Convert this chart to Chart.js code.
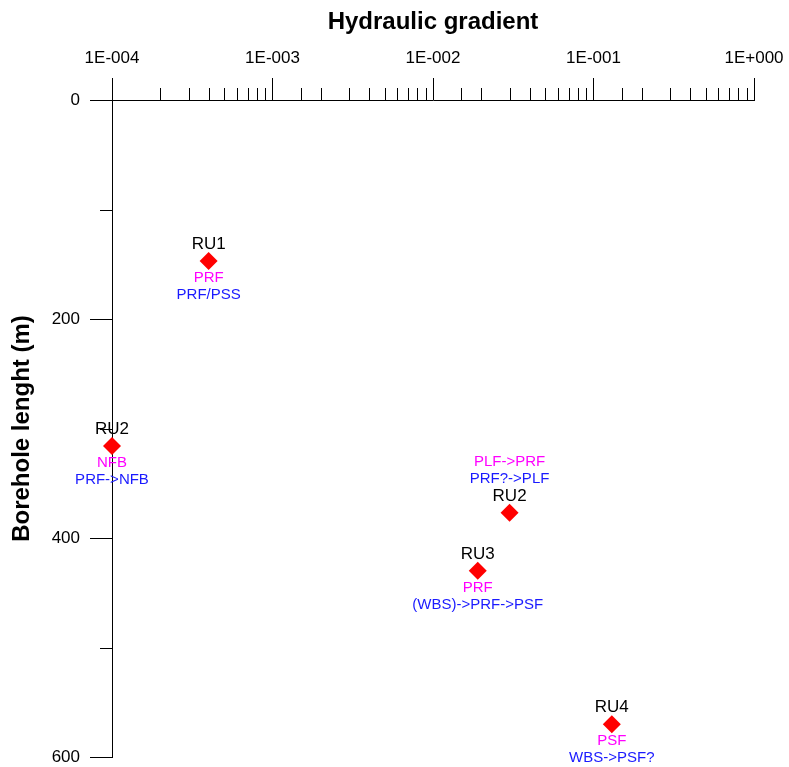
<!DOCTYPE html>
<html>
<head>
<meta charset="utf-8">
<script src="https://cdn.jsdelivr.net/npm/chart.js@4"></script>
<style>
  body { margin: 0; background: #fff; }
  #wrap { width: 789px; height: 767px; }
</style>
</head>
<body>
<div id="wrap"><canvas id="gradientChart" width="789" height="767"></canvas></div>
<script>
// Borehole sections
const names = ['RU1', 'RU2', 'RU2', 'RU3', 'RU4'];
const gradient = [0.0004, 0.0001, 0.03, 0.019, 0.13]; // hydraulic gradient (-)
const depth = [147, 316, 377, 430, 570]; // borehole length (m)
const flowNow = ['PRF', 'NFB', 'PLF->PRF', 'PRF', 'PSF']; // magenta text
const flowSeq = ['PRF/PSS', 'PRF->NFB', 'PRF?->PLF', '(WBS)->PRF->PSF', 'WBS->PSF?']; // blue text
const depthTicks = [0, 100, 200, 300, 400, 500, 600];

const FONT = 'Liberation Sans, Arial, sans-serif';

function isDecade(v) {
  const l = Math.log10(v);
  return Math.abs(l - Math.round(l)) < 1e-9;
}

function sciLabel(v) {
  const e = Math.round(Math.log10(v));
  const sign = e < 0 ? '-' : '+';
  return '1E' + sign + String(Math.abs(e)).padStart(3, '0');
}

// short ticks for the minor values + the text round each point
const extras = {
  id: 'extras',
  afterDraw(chart) {
    const ctx = chart.ctx;
    const xs = chart.scales.x, ys = chart.scales.y;
    ctx.save();
    ctx.strokeStyle = '#000';
    ctx.lineWidth = 1;
    ctx.beginPath();
    xs.ticks.forEach(t => {
      if (isDecade(t.value)) return;
      const px = Math.round(xs.getPixelForValue(t.value)) + 0.5;
      ctx.moveTo(px, xs.bottom);
      ctx.lineTo(px, xs.bottom - 12);
    });
    ys.ticks.forEach(t => {
      if (t.value % 200 === 0) return;
      const py = Math.round(ys.getPixelForValue(t.value)) + 0.5;
      ctx.moveTo(ys.right - 12, py);
      ctx.lineTo(ys.right, py);
    });
    ctx.stroke();

    const meta = chart.getDatasetMeta(0);
    ctx.textAlign = 'center';
    ctx.textBaseline = 'middle';
    meta.data.forEach((pt, i) => {
      const above = i === 2; // the second RU2 has its text above the name
      ctx.font = '17px ' + FONT;
      ctx.fillStyle = '#000';
      ctx.fillText(names[i], pt.x, pt.y - 17);
      ctx.font = '15px ' + FONT;
      ctx.fillStyle = '#ff00ff';
      ctx.fillText(flowNow[i], pt.x, above ? pt.y - 51 : pt.y + 17);
      ctx.fillStyle = '#1a1aff';
      ctx.fillText(flowSeq[i], pt.x, above ? pt.y - 34 : pt.y + 34);
    });
    ctx.restore();
  }
};

const ctx = document.getElementById('gradientChart').getContext('2d');
const gradientChart = new Chart(ctx, {
  type: 'scatter',
  data: {
    datasets: [{
      data: gradient.map((g, i) => ({ x: g, y: depth[i] })),
      pointStyle: 'rectRot',
      pointRadius: 9,
      pointHoverRadius: 9,
      backgroundColor: '#ff0000',
      borderColor: '#ff0000',
      borderWidth: 0,
      clip: false
    }]
  },
  options: {
    responsive: false,
    animation: false,
    events: [],
    layout: { padding: { top: 0, left: 0, right: 35, bottom: 10 } },
    plugins: { legend: { display: false }, tooltip: { enabled: false } },
    scales: {
      x: {
        type: 'logarithmic',
        position: 'top',
        min: 0.0001,
        max: 1,
        afterFit: s => { s.height = 100; s.paddingLeft = 0; s.paddingRight = 0; },
        border: { display: true, color: '#000', width: 1 },
        grid: {
          drawOnChartArea: false,
          drawTicks: true,
          tickLength: 22,
          color: c => (c.tick && isDecade(c.tick.value)) ? '#000' : 'rgba(0,0,0,0)'
        },
        ticks: {
          autoSkip: false,
          maxRotation: 0,
          padding: 9,
          color: '#000',
          font: { family: FONT, size: 17 },
          callback: v => isDecade(v) ? sciLabel(v) : ''
        },
        title: {
          display: true,
          text: 'Hydraulic gradient',
          color: '#000',
          font: { family: FONT, size: 24, weight: 'bold' },
          padding: { top: 8, bottom: 0 }
        }
      },
      y: {
        reverse: true,
        min: 0,
        max: 600,
        afterFit: s => { s.width = 112; s.paddingTop = 0; s.paddingBottom = 0; },
        afterBuildTicks: s => { s.ticks = depthTicks.map(v => ({ value: v })); },
        border: { display: true, color: '#000', width: 1 },
        grid: {
          drawOnChartArea: false,
          drawTicks: true,
          tickLength: 22,
          color: c => (c.tick && c.tick.value % 200 === 0) ? '#000' : 'rgba(0,0,0,0)'
        },
        ticks: {
          padding: 10,
          color: '#000',
          font: { family: FONT, size: 17 },
          callback: v => v % 200 === 0 ? String(v) : ''
        },
        title: {
          display: true,
          text: 'Borehole lenght (m)',
          color: '#000',
          font: { family: FONT, size: 24, weight: 'bold' },
          padding: { top: 8, bottom: 0 }
        }
      }
    }
  },
  plugins: [extras]
});
</script>
</body>
</html>
